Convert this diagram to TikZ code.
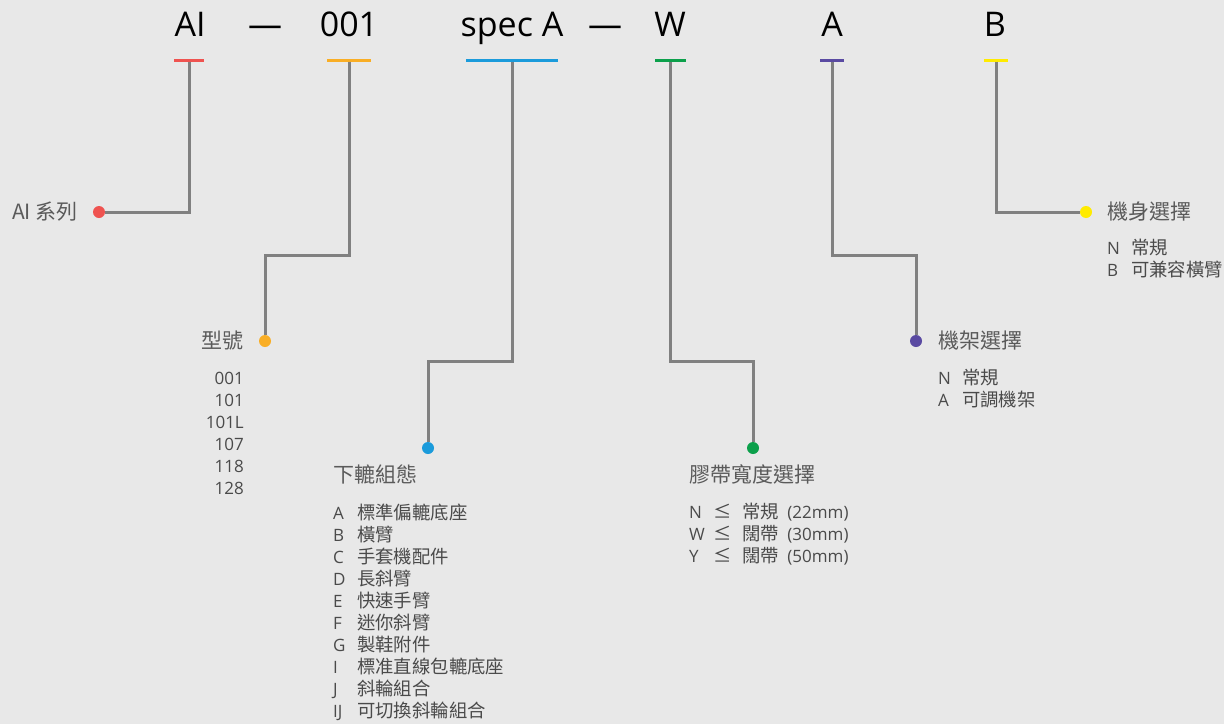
\documentclass[tikz,border=0pt]{standalone}
\usepackage{fontspec}
\setmainfont{Open Sans}
\newfontfamily\cjk{Noto Sans CJK TC}
\newfontfamily\cjkopt[Scale=1.08]{Noto Sans CJK TC}
\newcommand{\zh}[1]{{\cjkopt #1}}
\definecolor{bggray}{HTML}{E8E8E8}
\definecolor{linegray}{HTML}{808080}
\definecolor{headgray}{HTML}{5A5A5A}
\definecolor{optgray}{HTML}{4A4A4A}
\definecolor{cred}{HTML}{EF5350}
\definecolor{corange}{HTML}{F9AE25}
\definecolor{cblue}{HTML}{1B9BDB}
\definecolor{cgreen}{HTML}{0CA04B}
\definecolor{cpurple}{HTML}{5A4AA2}
\definecolor{cyellow}{HTML}{FFEB00}
\begin{document}
\begin{tikzpicture}[x=1pt,y=-1pt,
    part/.style={font=\fontsize{34}{40}\selectfont,text=black,inner sep=0pt,anchor=base},
    bar/.style={rectangle,inner sep=0pt,minimum height=3pt},
    dot/.style={circle,inner sep=0pt,minimum size=12pt},
    head/.style={font=\fontsize{21}{24}\cjk,text=headgray,inner sep=0pt},
    opts/.style={font=\fontsize{17}{22}\selectfont,text=optgray,inner sep=0pt},
    link/.style={draw=linegray,line width=3pt}]
  \fill[bggray] (0,0) rectangle (1224,724);
  % code string
  \draw
    (190,36) node[part] (p1){AI}
    (265,36) node[part] (p2){—}
    (349,36) node[part] (p3){001}
    (512,36) node[part] (p4){spec A}
    (605,36) node[part] (p5){—}
    (670,36) node[part] (p6){W}
    (832,36) node[part] (p7){A}
    (995,36) node[part] (p8){B};
  % colour bars
  \draw
    (189,60) node[bar,fill=cred,minimum width=30pt] (b1){}
    (349,60) node[bar,fill=corange,minimum width=44pt] (b2){}
    (512,60) node[bar,fill=cblue,minimum width=92pt] (b3){}
    (670,60) node[bar,fill=cgreen,minimum width=31pt] (b4){}
    (832,60) node[bar,fill=cpurple,minimum width=24pt] (b5){}
    (996,60) node[bar,fill=cyellow,minimum width=24pt] (b6){};
  % bends
  \coordinate (k2) at (265,255);
  \coordinate (k3) at (428,361);
  \coordinate (k4) at (753,361);
  \coordinate (k5) at (916,255);
  % dots
  \draw
    (99,212) node[dot,fill=cred] (d1){}
    (265,341) node[dot,fill=corange] (d2){}
    (428,448) node[dot,fill=cblue] (d3){}
    (753,448) node[dot,fill=cgreen] (d4){}
    (916,341) node[dot,fill=cpurple] (d5){}
    (1086,212) node[dot,fill=cyellow] (d6){};
  \begin{scope}[link]
    \draw (b1) |- (d1);
    \draw (b2) |- (k2) -- (d2);
    \draw (b3) |- (k3) -- (d3);
    \draw (b4) |- (k4) -- (d4);
    \draw (b5) |- (k5) -- (d5);
    \draw (b6) |- (d6);
  \end{scope}
  % headings
  \draw
    (78,212) node[head,anchor=east] (h1){AI 系列}
    (244,341) node[head,anchor=east] (h2){型號}
    (333,474) node[head,anchor=west] (h3){下轆組態}
    (689,474) node[head,anchor=west] (h4){膠帶寬度選擇}
    (938,341) node[head,anchor=west] (h5){機架選擇}
    (1107,212) node[head,anchor=west] (h6){機身選擇};
  % option lists
  \node[opts,anchor=base east] (o2) at (244,384)
    {\begin{tabular}[t]{@{}r@{}}001\\101\\101L\\107\\118\\128\end{tabular}};
  \node[opts,anchor=base west] (o3) at (333,519)
    {\begin{tabular}[t]{@{}p{24pt}@{}l@{}}
      A & \zh{標準偏轆底座}\\
      B & \zh{橫臂}\\
      C & \zh{手套機配件}\\
      D & \zh{長斜臂}\\
      E & \zh{快速手臂}\\
      F & \zh{迷你斜臂}\\
      G & \zh{製鞋附件}\\
      I & \zh{標准直線包轆底座}\\
      J & \zh{斜輪組合}\\
      IJ & \zh{可切換斜輪組合}
    \end{tabular}};
  \node[opts,anchor=base west] (o4) at (689,518)
    {\begin{tabular}[t]{@{}p{24pt}@{}p{29pt}@{}l@{}}
      N & \zh{≤} & \zh{常規}\hspace{0.5em}(22mm)\\
      W & \zh{≤} & \zh{闊帶}\hspace{0.5em}(30mm)\\
      Y & \zh{≤} & \zh{闊帶}\hspace{0.5em}(50mm)
    \end{tabular}};
  \node[opts,anchor=base west] (o5) at (938,384)
    {\begin{tabular}[t]{@{}p{24pt}@{}l@{}}
      N & \zh{常規}\\
      A & \zh{可調機架}
    \end{tabular}};
  \node[opts,anchor=base west] (o6) at (1107,254)
    {\begin{tabular}[t]{@{}p{24pt}@{}l@{}}
      N & \zh{常規}\\
      B & \zh{可兼容橫臂}
    \end{tabular}};
\end{tikzpicture}
\end{document}
